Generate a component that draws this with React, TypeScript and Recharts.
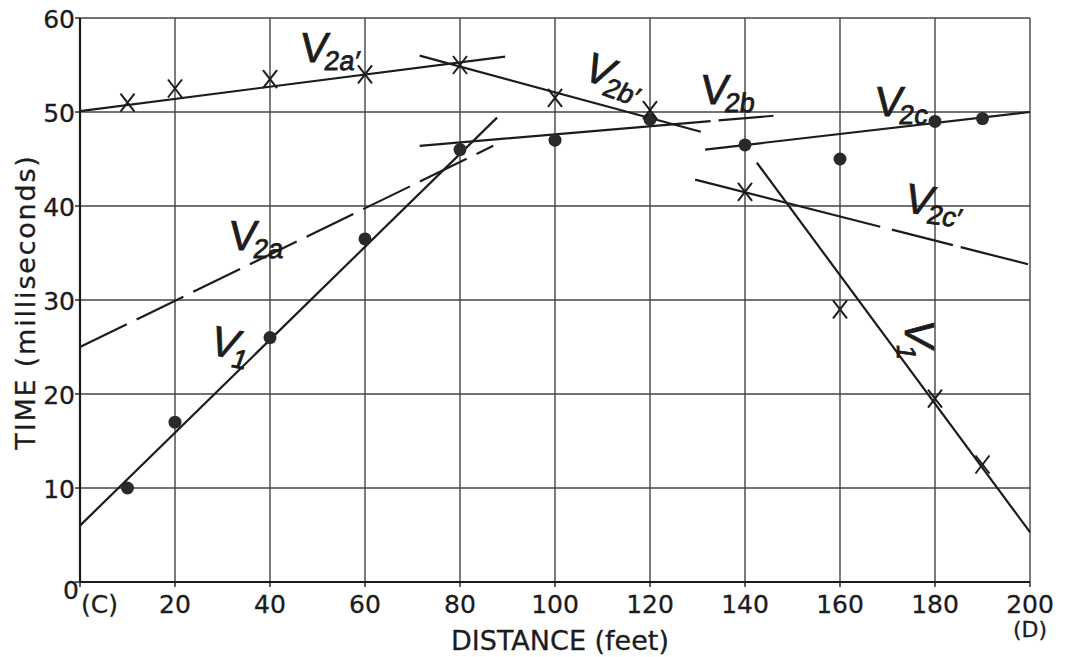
import React from 'react';
import { ComposedChart, Line, Scatter, XAxis, YAxis, CartesianGrid, ReferenceDot } from 'recharts';

// ---- data ----
const xTicks = [0, 20, 40, 60, 80, 100, 120, 140, 160, 180, 200];
const yTicks = [0, 10, 20, 30, 40, 50, 60];

// observed first arrivals (dots) and reverse-shot arrivals (crosses)
const dotX = [10, 20, 40, 60, 80, 100, 120, 140, 160, 180, 190];
const dotY = [10, 17, 26, 36.5, 46, 47, 49.2, 46.5, 45, 49, 49.3];
const crossX = [10, 20, 40, 60, 80, 100, 120, 140, 160, 180, 190];
const crossY = [51, 52.5, 53.5, 54, 55, 51.5, 50.2, 41.5, 29, 19.5, 12.5];

// fitted segments (end points)
const v2aPrimeLine = [{ x: 0, y: 50.1 }, { x: 89.5, y: 55.9 }];
const v2bPrimeLine = [{ x: 71.5, y: 56 }, { x: 130.7, y: 47.9 }];
const v2bLine = [{ x: 71.5, y: 46.4 }, { x: 146, y: 49.6 }];
const v1Line = [{ x: 0, y: 6 }, { x: 87.8, y: 49.4 }];
const v2aLine = [{ x: 0, y: 25 }, { x: 87, y: 46.4 }];
const v2cLine = [{ x: 131.6, y: 46 }, { x: 200, y: 50 }];
const v2cPrimeLine = [{ x: 129.5, y: 42.8 }, { x: 199.6, y: 33.8 }];
const v1PrimeLine = [{ x: 142.5, y: 44.6 }, { x: 200, y: 5.3 }];

const dots = dotX.map((x, i) => ({ x, y: dotY[i] }));
const crosses = crossX.map((x, i) => ({ x, y: crossY[i] }));

// annotation labels
const labelMain = ['V', 'V', 'V', 'V', 'V', 'V', 'V', 'V'];
const labelSub = ["2a′", "2b′", '2b', '2c', "2c′", '2a', '1', '1'];
const labelX = [46.0, 105.3, 130.3, 167.0, 173.0, 31.0, 26.7, 173.7];
const labelY = [55.3, 53.6, 50.9, 49.6, 39.4, 35.3, 24.3, 28.0];
const labelRot = [0, 20, 0, 0, 8, 0, 12, 90];

const INK = '#1c1c1c';
const GRID = '#444';
const FONT = '"DejaVu Sans", "Liberation Sans", sans-serif';
const HAND = '"Liberation Sans Narrow", "Liberation Sans", sans-serif';

const DotShape = (p: any) => <circle cx={p.cx} cy={p.cy} r={6.5} fill="#2a2a2a" />;
const CrossShape = (p: any) => (
  <g stroke={INK} strokeWidth={2}>
    <line x1={p.cx - 7} y1={p.cy - 9} x2={p.cx + 7} y2={p.cy + 9} />
    <line x1={p.cx + 7} y1={p.cy - 9} x2={p.cx - 7} y2={p.cy + 9} />
  </g>
);

const tickText = { fontFamily: FONT, fill: INK, stroke: INK, strokeWidth: 0.3 };

const XTick = (p: any) => {
  const v = p.payload.value;
  const ax = p.x;
  const base = 613;
  if (v === 0) {
    return (
      <text x={ax + 1} y={base} {...tickText} fontSize={25} textAnchor="start">(C)</text>
    );
  }
  if (v === 200) {
    return (
      <g>
        <text x={ax} y={base} {...tickText} fontSize={25} textAnchor="middle">200</text>
        <text x={ax} y={base + 24} {...tickText} fontSize={22} textAnchor="middle">(D)</text>
      </g>
    );
  }
  return (
    <text x={ax} y={base} {...tickText} fontSize={25} textAnchor="middle">{v}</text>
  );
};

const YTick = (p: any) => {
  const v = p.payload.value;
  if (v === 0) {
    return <text x={79} y={p.y + 17} {...tickText} fontSize={25} textAnchor="end">0</text>;
  }
  return (
    <text x={75} y={p.y + 10} {...tickText} fontSize={25} textAnchor="end">{v}</text>
  );
};

const makeLabel = (i: number) => (p: any) => {
  const big = 42;
  const small = 27;
  return (
    <g transform={`rotate(${labelRot[i]} ${p.cx} ${p.cy})`}>
      <text
        x={p.cx}
        y={p.cy}
        transform={`translate(${p.cx} ${p.cy}) skewX(-8) translate(${-p.cx} ${-p.cy})`}
        fontFamily={HAND}
        fill={INK}
        stroke={INK}
        strokeWidth={0.8}
      >
        <tspan fontSize={big}>{labelMain[i]}</tspan>
        <tspan fontSize={small} dy={8} dx={-2}>{labelSub[i]}</tspan>
      </text>
    </g>
  );
};

const lineProps = {
  dataKey: 'y',
  stroke: INK,
  strokeWidth: 2.2,
  dot: false,
  activeDot: false,
  isAnimationActive: false,
  legendType: 'none' as const,
};

export default function App() {
  return (
    <div style={{ position: 'absolute', left: 0, top: 0, background: '#fff' }}>
      <ComposedChart width={1066} height={657} margin={{ top: 18, right: 36, left: 0, bottom: 0 }}>
        <CartesianGrid stroke={GRID} strokeWidth={1.4} />
        <XAxis
          type="number"
          dataKey="x"
          domain={[0, 200]}
          ticks={xTicks}
          interval={0}
          height={75}
          axisLine={{ stroke: INK, strokeWidth: 2.2 }}
          tickLine={{ stroke: INK, strokeWidth: 1.4 }}
          tickSize={5}
          tick={<XTick />}
          label={(lp: any) => (
            <text x={560} y={650} {...tickText} fontSize={27} textAnchor="middle">
              DISTANCE (feet)
            </text>
          )}
        />
        <YAxis
          type="number"
          dataKey="y"
          domain={[0, 60]}
          ticks={yTicks}
          interval={0}
          width={80}
          axisLine={{ stroke: INK, strokeWidth: 2.2 }}
          tickLine={{ stroke: INK, strokeWidth: 1.4 }}
          tickSize={5}
          tick={<YTick />}
          label={(lp: any) => (
            <text
              x={35}
              y={302}
              transform="rotate(-90 35 302)"
              {...tickText}
              fontSize={27}
              letterSpacing={1.8}
              textAnchor="middle"
            >
              TIME (milliseconds)
            </text>
          )}
        />
        <Line data={v2aPrimeLine} {...lineProps} />
        <Line data={v2bPrimeLine} {...lineProps} />
        <Line data={v2bLine} {...lineProps} strokeDasharray="292 8 62" />
        <Line data={v1Line} {...lineProps} />
        <Line data={v2aLine} {...lineProps} strokeDasharray="52 11" />
        <Line data={v2cLine} {...lineProps} />
        <Line data={v2cPrimeLine} {...lineProps} strokeDasharray="191 12 63 8 80" />
        <Line data={v1PrimeLine} {...lineProps} />
        <Scatter data={dots} dataKey="y" shape={DotShape} isAnimationActive={false} />
        <Scatter data={crosses} dataKey="y" shape={CrossShape} isAnimationActive={false} />
        {labelX.map((lx, i) => (
          <ReferenceDot key={i} x={lx} y={labelY[i]} r={1} shape={makeLabel(i)} ifOverflow="visible" />
        ))}
      </ComposedChart>
    </div>
  );
}
